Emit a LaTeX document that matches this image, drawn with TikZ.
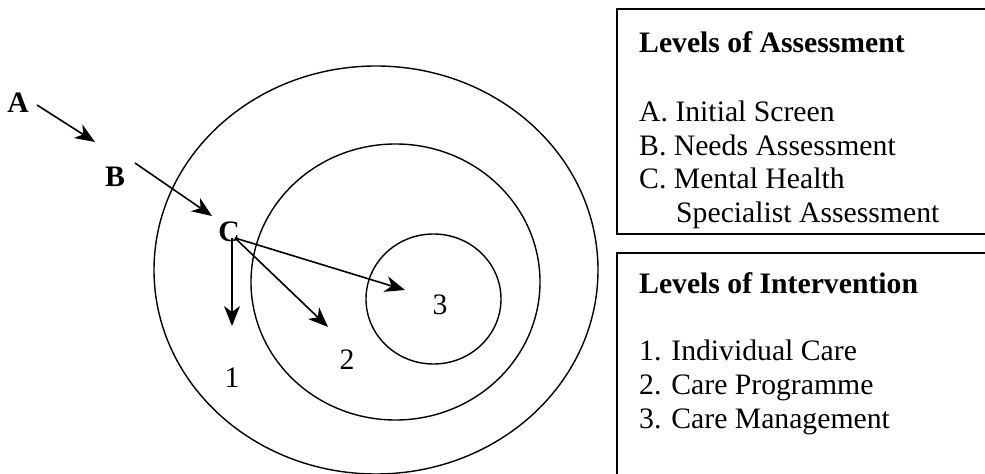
\documentclass[tikz,border=0pt]{standalone}
\usepackage{fontspec}
\setmainfont{Liberation Serif}
\usetikzlibrary{arrows.meta}
\begin{document}
\begin{tikzpicture}[x=1bp,y=-1bp,
  ring/.style={draw, line width=1.4bp},
  panel/.style={line width=1.5bp},
  flow/.style={line width=1.6bp, -{Stealth[length=20bp,width=16bp,inset=6bp]}},
  levelmark/.style={font=\bfseries\fontsize{29.7bp}{33.5bp}\selectfont, inner sep=0pt},
  ringnum/.style={font=\fontsize{29.7bp}{33.5bp}\selectfont, inner sep=0pt},
  paneltext/.style={font=\fontsize{29.7bp}{33.5bp}\selectfont, inner sep=0pt, anchor=base west},
  paneltitle/.style={paneltext, font=\bfseries\fontsize{29.7bp}{33.5bp}\selectfont}]
\useasboundingbox (0,0) rectangle (985,474);

% nested levels of intervention
\draw[ring] (376,270) ellipse [x radius=222bp, y radius=204bp];
\draw[ring] (395.5,282) ellipse [x radius=144.5bp, y radius=138bp];
\draw[ring] (433.5,299) ellipse [x radius=67.5bp, y radius=65bp];

% assessment stages
\node[levelmark] (A) at (18,103) {A};
\node[levelmark] (B) at (115,177) {B};
\node[levelmark] (C) at (229,232) {C};

% ring numbers
\node[ringnum] (n1) at (232,378) {1};
\node[ringnum] (n2) at (347,360) {2};
\node[ringnum] (n3) at (440,305) {3};

% arrow ends
\coordinate (A-out) at (37,105);
\coordinate (B-in) at (95,142);
\coordinate (B-out) at (135,163);
\coordinate (C-in) at (212,216);
\coordinate (C-hub) at (235,238);
\coordinate (C-down) at (232,238);
\coordinate (ring1-tip) at (232,326);
\coordinate (ring2-tip) at (328,327);
\coordinate (ring3-tip) at (405,290);

\draw[flow] (A-out) -- (B-in);
\draw[flow] (B-out) -- (C-in);
\draw[flow] (C-down) -- (ring1-tip);
\draw[flow] (C-hub) -- (ring2-tip);
\draw[flow] (C-hub) -- (ring3-tip);

% key panels, running off the right and bottom edges
\draw[panel] (985,9) -- (617,9) -- (617,234) -- (985,234);
\draw[panel] (985,253) -- (617,253) -- (617,474);

\node[paneltitle] (asmt-title) at (639,53) {Levels of Assessment};
\node[paneltext] (asmt-a) at (639,122) {A. Initial Screen};
\node[paneltext] (asmt-b) at (639,155.5) {B. Needs Assessment};
\node[paneltext] (asmt-c) at (639,189) {C. Mental Health};
\node[paneltext] (asmt-c2) at (676,222.5) {Specialist Assessment};

\node[paneltitle] (intv-title) at (639,294) {Levels of Intervention};
\node[paneltext] (intv-1) at (639,361) {1. Individual Care};
\node[paneltext] (intv-2) at (639,394.5) {2. Care Programme};
\node[paneltext] (intv-3) at (639,428) {3. Care Management};
\end{tikzpicture}
\end{document}
